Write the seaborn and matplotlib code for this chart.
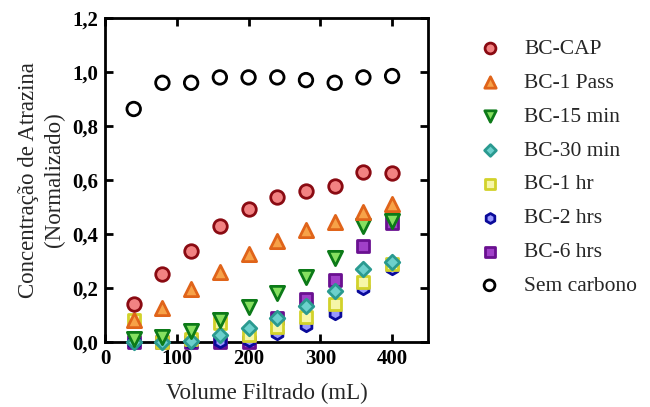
import matplotlib
matplotlib.use("Agg")
import matplotlib.pyplot as plt
import seaborn as sns
import pandas as pd

volume = [40, 80, 120, 160, 200, 240, 280, 320, 360, 400]

series_names = ["BC-CAP", "BC-1 Pass", "BC-15 min", "BC-30 min",
                "BC-1 hr", "BC-2 hrs", "BC-6 hrs", "Sem carbono"]

bc_cap = [0.14, 0.252, 0.338, 0.431, 0.494, 0.537, 0.559, 0.579, 0.631, 0.625]
bc_1pass = [0.081, 0.125, 0.197, 0.259, 0.325, 0.375, 0.415, 0.443, 0.48, 0.511]
bc_15min = [0.01, 0.02, 0.04, 0.08, 0.13, 0.183, 0.24, 0.312, 0.43, 0.448]
bc_30min = [0.0, 0.0, 0.005, 0.025, 0.053, 0.088, 0.133, 0.19, 0.269, 0.295]
bc_1hr = [0.08, 0.0, 0.01, 0.07, 0.026, 0.057, 0.094, 0.14, 0.223, 0.29]
bc_2hrs = [0.0, 0.0, 0.0, 0.005, 0.007, 0.032, 0.063, 0.108, 0.199, 0.274]
bc_6hrs = [0.0, 0.0, 0.0, 0.0, 0.0, 0.089, 0.158, 0.23, 0.356, 0.442]
sem_carbono = [0.863, 0.96, 0.96, 0.98, 0.98, 0.98, 0.97, 0.96, 0.98, 0.985]

values = [bc_cap, bc_1pass, bc_15min, bc_30min, bc_1hr, bc_2hrs, bc_6hrs, sem_carbono]

df = pd.concat(
    [pd.DataFrame({"volume": volume, "conc": v, "amostra": n})
     for n, v in zip(series_names, values)],
    ignore_index=True,
)

styles = {
    "BC-CAP":      dict(marker="o", fc="#f28282", ec="#8a0a12", s=95),
    "BC-1 Pass":   dict(marker="^", fc="#f7a248", ec="#e0641a", s=105),
    "BC-15 min":   dict(marker="v", fc="#86e060", ec="#0c7a18", s=105),
    "BC-30 min":   dict(marker="D", fc="#6cd0cc", ec="#2a9a90", s=55),
    "BC-1 hr":     dict(marker="s", fc="#f6f6a8", ec="#d2d22a", s=80),
    "BC-2 hrs":    dict(marker="h", fc="#9898ff", ec="#0a0a9a", s=80),
    "BC-6 hrs":    dict(marker="s", fc="#a040c8", ec="#6a1090", s=80),
    "Sem carbono": dict(marker="o", fc="none", ec="black", s=95),
}

sns.set_theme(style="ticks")
plt.rcParams["font.family"] = ["Liberation Serif", "DejaVu Serif"]

fig = plt.figure(figsize=(6.5, 4.07), dpi=100)
ax = fig.add_axes([105 / 650, 1 - 342 / 407, 323 / 650, 324 / 407])

handles = {}
for name in reversed(series_names):
    st = styles[name]
    sub = df[df["amostra"] == name]
    sns.scatterplot(data=sub, x="volume", y="conc", ax=ax,
                    marker=st["marker"], s=st["s"],
                    color=st["fc"] if st["fc"] != "none" else "white",
                    edgecolor=st["ec"], linewidth=2.0,
                    facecolors=st["fc"] if st["fc"] == "none" else None,
                    label=name, zorder=3, clip_on=False, legend=False)
    handles[name] = ax.collections[-1]

ax.set_xlim(0, 450)
ax.set_ylim(0, 1.2)
ax.set_xticks([0, 100, 200, 300, 400])
ax.set_yticks([0, 0.2, 0.4, 0.6, 0.8, 1.0, 1.2])
ax.set_yticklabels(["0,0", "0,2", "0,4", "0,6", "0,8", "1,0", "1,2"])

for sp in ax.spines.values():
    sp.set_linewidth(2.0)
    sp.set_color("black")
ax.tick_params(direction="in", length=6, width=2, top=True, right=True,
               labelsize=15, colors="black", pad=5)
for lab in ax.get_xticklabels() + ax.get_yticklabels():
    lab.set_fontweight("bold")

ax.set_xlabel("Volume Filtrado (mL)", fontsize=16.5, labelpad=10)
ax.set_ylabel("Concentração de Atrazina\n(Normalizado)", fontsize=16.5,
              labelpad=5, linespacing=1.3)

leg = fig.legend([handles[n] for n in series_names], series_names,
                 loc="upper left", bbox_to_anchor=(468 / 650, 1 - 39 / 407),
                 frameon=False, fontsize=15.5, labelspacing=0.64,
                 handletextpad=0.6, markerscale=0.8, borderaxespad=0,
                 borderpad=0)

fig.savefig("out.png", dpi=100)
